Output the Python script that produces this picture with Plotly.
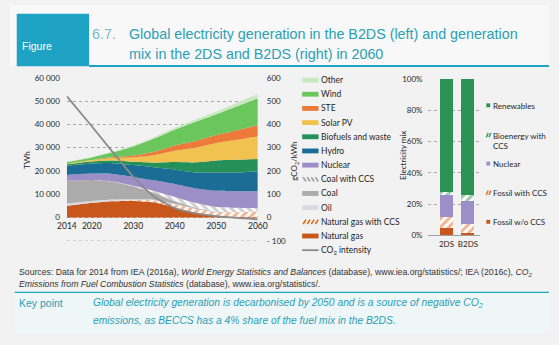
import plotly.graph_objects as go

# ---------------- data ----------------
years = [2014, 2020, 2025, 2030, 2035, 2040, 2045, 2050, 2055, 2060]
natural_gas = [5000, 6300, 7000, 7100, 6500, 4300, 2000, 500, 300, 300]
natural_gas_ccs = [0, 0, 100, 300, 900, 1400, 1700, 1800, 2000, 2300]
oil = [1000, 800, 600, 400, 250, 150, 80, 50, 30, 20]
coal = [9800, 9000, 7700, 5600, 3000, 1200, 400, 150, 50, 0]
coal_ccs = [0, 0, 50, 200, 700, 1800, 2100, 2000, 1800, 1400]
nuclear = [2500, 2750, 3200, 3800, 4600, 5500, 6200, 7000, 7100, 7300]
hydro = [3900, 4300, 4700, 5100, 5600, 6200, 6900, 7800, 8100, 8500]
biofuels = [700, 900, 1100, 1400, 2000, 3300, 4300, 5200, 5400, 5300]
solar_pv = [200, 600, 1100, 1900, 3200, 4800, 6300, 7500, 8600, 9700]
ste = [10, 60, 300, 800, 1500, 2300, 2900, 3400, 4100, 4900]
wind = [750, 1100, 2150, 3950, 5650, 6750, 8200, 8900, 10300, 11500]
other = [140, 200, 300, 450, 600, 800, 1000, 1200, 1500, 1800]
co2_intensity = [520, 392, 282, 175, 90, 40, 18, 6, -2, -8]

year_ticks = [2014, 2020, 2030, 2040, 2050, 2060]
twh_ticks = [0, 10000, 20000, 30000, 40000, 50000, 60000]
twh_labels = ["0", "10 000", "20 000", "30 000", "40 000", "50 000", "60 000"]
twh_floor = -10000
co2_ticks = [-100, 0, 100, 200, 300, 400, 500, 600]
co2_labels = ["- 100", "0", "100", "200", "300", "400", "500", "600"]

scenarios = ["2DS", "B2DS"]
fossil_wo_ccs = [5, 1.5]
fossil_ccs = [7, 6]
nuclear_mix = [14, 14.5]
beccs = [2, 4]
renewables = [72, 74]
mix_ticks = [0, 20, 40, 60, 80, 100]

# ---------------- styling ----------------
W, H = 559, 345
CHART_FONT = "Lato"
TEXT_FONT = "Liberation Sans"
TEAL = "#1ea3c4"
TITLE_TEAL = "#2a9fb6"
BG = "#f2f2f2"
GRID = "#a8a8a8"

C_OTHER = "#c9e8c2"
C_WIND = "#6cc65e"
C_STE = "#ec7b3a"
C_SOLAR = "#f1c24f"
C_BIO = "#26905a"
C_HYDRO = "#1b6d95"
C_NUC = "#9c8fc7"
C_COALCCS = "#9e9e9e"
C_COAL = "#ababab"
C_OIL = "#dadae2"
C_GASCCS = "#e4691f"
C_GAS = "#c9561a"
C_CO2 = "#8a8a8a"
C_REN = "#2b9455"


def px(x):
    return x / W


def py(y):
    return 1 - y / H


fig = go.Figure()

# stacked generation areas (bottom to top)
layers = [
    ("Natural gas", natural_gas, C_GAS, None),
    ("Natural gas with CCS", natural_gas_ccs, C_GASCCS, "/"),
    ("Oil", oil, C_OIL, None),
    ("Coal", coal, C_COAL, None),
    ("Coal with CCS", coal_ccs, C_COALCCS, "\\"),
    ("Nuclear", nuclear, C_NUC, None),
    ("Hydro", hydro, C_HYDRO, None),
    ("Biofuels and waste", biofuels, C_BIO, None),
    ("Solar PV", solar_pv, C_SOLAR, None),
    ("STE", ste, C_STE, None),
    ("Wind", wind, C_WIND, None),
    ("Other", other, C_OTHER, None),
]
for name, vals, col, pat in layers:
    kw = dict(
        x=years, y=vals, name=name, stackgroup="gen", mode="lines",
        line=dict(width=0, shape="spline", smoothing=0.6, color=col),
        showlegend=False, xaxis="x", yaxis="y",
    )
    if pat:
        kw["fillcolor"] = "white"
        kw["fillpattern"] = dict(shape=pat, fgcolor=col, bgcolor="white",
                                 size=6, solidity=0.5)
    else:
        kw["fillcolor"] = col
    fig.add_trace(go.Scatter(**kw))

fig.add_trace(go.Scatter(
    x=years, y=co2_intensity, name="CO2 intensity", mode="lines",
    line=dict(color=C_CO2, width=1.8, shape="spline", smoothing=0.6),
    xaxis="x", yaxis="y2", showlegend=False,
))

# 2060 generation mix bars
bar_layers = [
    ("Fossil w/o CCS", fossil_wo_ccs, C_GAS, None),
    ("Fossil with CCS", fossil_ccs, C_GASCCS, "/"),
    ("Nuclear", nuclear_mix, C_NUC, None),
    ("Bioenergy with CCS", beccs, C_REN, "/"),
    ("Renewables", renewables, C_REN, None),
]
for name, vals, col, pat in bar_layers:
    marker = dict(color=col, line=dict(width=0))
    if pat:
        marker = dict(color="white", line=dict(width=0),
                      pattern=dict(shape=pat, fgcolor=col, bgcolor="white",
                                   size=6, solidity=0.5))
    fig.add_trace(go.Bar(
        x=scenarios, y=vals, name=name, marker=marker, width=0.6,
        xaxis="x3", yaxis="y3", showlegend=False,
    ))

tick_font = dict(family=CHART_FONT, size=8, color="#262626")

fig.update_layout(
    width=W, height=H,
    margin=dict(l=0, r=0, t=0, b=0),
    paper_bgcolor=BG, plot_bgcolor="rgba(0,0,0,0)",
    barmode="stack",
    showlegend=False,
    xaxis=dict(
        domain=[px(59), px(257)], range=[2014, 2060],
        tickvals=year_ticks, ticks="", showgrid=False, zeroline=False,
        showline=False, anchor="free", position=py(218),
        tickfont=dict(family=CHART_FONT, size=8.5, color="#1e1e1e"),
        ticklabelstandoff=3,
    ),
    yaxis=dict(
        domain=[py(242.8), py(75)], range=[twh_floor, 60000],
        tickvals=twh_ticks, ticktext=twh_labels, ticks="",
        showgrid=True, gridcolor=GRID, griddash="dot", gridwidth=0.8,
        zeroline=False, showline=False, tickfont=tick_font,
        anchor="x", ticklabelstandoff=6,
    ),
    yaxis2=dict(
        overlaying="y", side="right", anchor="x", range=[-100, 600],
        tickvals=co2_ticks, ticktext=co2_labels, ticks="",
        showgrid=False, zeroline=False, showline=False, tickfont=tick_font,
        ticklabelstandoff=8,
    ),
    xaxis3=dict(
        domain=[px(433), px(487)], range=[-0.88, 1.54], type="category",
        anchor="y3", ticks="", showgrid=False, zeroline=False,
        showline=True, linecolor="#a0a0a0", linewidth=1,
        tickfont=tick_font, ticklabelstandoff=1,
    ),
    yaxis3=dict(
        domain=[py(237.3), py(76)], range=[0, 100],
        tickvals=mix_ticks, ticktext=[f"{v}%" for v in mix_ticks], ticks="",
        showgrid=True, gridcolor=GRID, griddash="dot", gridwidth=0.8,
        zeroline=False, showline=False, tickfont=tick_font,
        anchor="x3", ticklabelstandoff=4,
    ),
)

shapes = []
ann = []

# unlabelled bottom gridline of the TWh axis
shapes.append(dict(type="line", xref="x domain", yref="y", x0=0, x1=1,
                   y0=twh_floor, y1=twh_floor, layer="below",
                   line=dict(color=GRID, width=0.8, dash="dot")))


def note(text, x, y, size, color, family=CHART_FONT, xanchor="left",
         yanchor="middle", angle=0, align="left"):
    ann.append(dict(text=text, x=px(x), y=py(y), xref="paper", yref="paper",
                    xanchor=xanchor, yanchor=yanchor, textangle=angle,
                    align=align, showarrow=False, borderpad=0,
                    font=dict(family=family, size=size, color=color)))


# header band
shapes.append(dict(type="rect", xref="paper", yref="paper",
                   x0=0, x1=1, y0=py(63), y1=1, fillcolor="#f8f8f8",
                   line=dict(width=0), layer="below"))
shapes.append(dict(type="rect", xref="paper", yref="paper",
                   x0=px(7), x1=px(82), y0=py(63), y1=py(9),
                   fillcolor=TEAL, line=dict(width=0)))
shapes.append(dict(type="line", xref="paper", yref="paper",
                   x0=px(82), x1=1, y0=py(62.8), y1=py(62.8),
                   line=dict(color=TEAL, width=2)))
note("Figure", 11, 42, 10.5, "white", TEXT_FONT)
note("6.7.", 84, 30, 14.3, "#79b9c6", TEXT_FONT)
note("Global electricity generation in the B2DS (left) and generation",
     122, 30, 14.3, TITLE_TEAL, TEXT_FONT)
note("mix in the 2DS and B2DS (right) in 2060", 122, 50, 14.3, TITLE_TEAL, TEXT_FONT)

# axis titles
note("TWh", 18, 160, 8, "#262626", xanchor="center", angle=-90)
note("gCO<sub>2</sub>/kWh", 295, 161, 8, "#262626", xanchor="center", angle=-90)
note("Electricity mix", 407, 155, 8, "#262626", xanchor="center", angle=-90)


def hatch(x0, x1, yc, h, col, direction, n, width=1.6):
    """short diagonal strokes inside a legend swatch"""
    step = (x1 - x0) / n
    for i in range(n):
        a = x0 + i * step + 1
        b = a + step * 0.7
        if direction == "/":
            pts = (a, yc + h / 2, b, yc - h / 2)
        else:
            pts = (a, yc - h / 2, b, yc + h / 2)
        shapes.append(dict(type="line", xref="paper", yref="paper",
                           x0=px(pts[0]), y0=py(pts[1]),
                           x1=px(pts[2]), y1=py(pts[3]),
                           line=dict(color=col, width=width)))


# legend for the area chart
legend_items = [
    ("Other", C_OTHER, None),
    ("Wind", C_WIND, None),
    ("STE", C_STE, None),
    ("Solar PV", C_SOLAR, None),
    ("Biofuels and waste", C_BIO, None),
    ("Hydro", C_HYDRO, None),
    ("Nuclear", C_NUC, None),
    ("Coal with CCS", C_COALCCS, "\\"),
    ("Coal", C_COAL, None),
    ("Oil", C_OIL, None),
    ("Natural gas with CCS", C_GASCCS, "/"),
    ("Natural gas", C_GAS, None),
    ("CO<sub>2</sub> intensity", C_CO2, "line"),
]
for i, (label, col, kind) in enumerate(legend_items):
    yc = 77.3 + i * 14.6
    if kind == "line":
        shapes.append(dict(type="line", xref="paper", yref="paper",
                           x0=px(303), x1=px(320), y0=py(yc), y1=py(yc),
                           line=dict(color=col, width=1.8)))
    elif kind:
        hatch(303, 320, yc, 4.5, col, kind, 4)
    else:
        shapes.append(dict(type="rect", xref="paper", yref="paper",
                           x0=px(303), x1=px(320), y0=py(yc + 2.5),
                           y1=py(yc - 2.5), fillcolor=col,
                           line=dict(width=0)))
    note(label, 321.5, yc, 8.5, "#1e1e1e")

# legend for the mix bars
bar_legend = [
    ("Renewables", C_REN, None, 103.3),
    ("Bioenergy with<br>CCS", C_REN, "/", 134.0),
    ("Nuclear", C_NUC, None, 163.3),
    ("Fossil with CCS", C_GASCCS, "/", 193.3),
    ("Fossil w/o CCS", C_GAS, None, 223.3),
]
for label, col, kind, yc in bar_legend:
    if kind:
        hatch(493, 498.5, yc, 4.5, col, kind, 2, width=1.4)
    else:
        shapes.append(dict(type="rect", xref="paper", yref="paper",
                           x0=px(494), x1=px(498), y0=py(yc + 2),
                           y1=py(yc - 2), fillcolor=col, line=dict(width=0)))
    note(label, 500, yc - 5.5, 8, "#1e1e1e", yanchor="top")

# sources and key point
note("Sources: Data for 2014 from IEA (2016a), <i>World Energy Statistics and Balances</i> "
     "(database), www.iea.org/statistics/; IEA (2016c), <i>CO<sub>2</sub></i>",
     8, 275, 8.7, "#333333", TEXT_FONT)
note("<i>Emissions from Fuel Combustion Statistics</i> (database), www.iea.org/statistics/.",
     8, 287, 8.7, "#333333", TEXT_FONT)
shapes.append(dict(type="rect", xref="paper", yref="paper",
                   x0=px(5), x1=1, y0=py(338), y1=py(296),
                   fillcolor="#eef6f8", line=dict(width=0), layer="below"))
shapes.append(dict(type="line", xref="paper", yref="paper",
                   x0=px(5), x1=1, y0=py(296), y1=py(296),
                   line=dict(color=TEAL, width=1.2)))
note("Key point", 8, 307, 10.5, TITLE_TEAL, TEXT_FONT)
note("<i>Global electricity generation is decarbonised by 2050 and is a source of negative CO<sub>2</sub></i>",
     85, 307, 10.3, TITLE_TEAL, TEXT_FONT)
note("<i>emissions, as BECCS has a 4% share of the fuel mix in the B2DS.</i>",
     85, 325, 10.3, TITLE_TEAL, TEXT_FONT)

fig.update_layout(shapes=shapes, annotations=ann)
fig.write_html("out.html")
